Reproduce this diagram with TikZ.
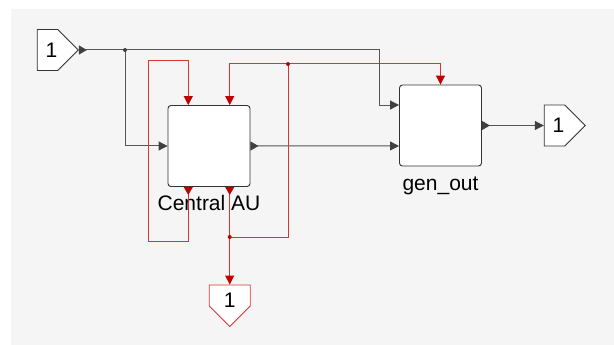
\documentclass[tikz,border=0pt]{standalone}
\usepackage{fontspec}
\setmainfont{Liberation Sans}
\usetikzlibrary{arrows.meta,positioning,calc,shapes.symbols}

\definecolor{canvas}{HTML}{F5F5F5}
\definecolor{wiregray}{HTML}{555555}
\definecolor{tipgray}{HTML}{404040}
\definecolor{sigred}{HTML}{D03838}
\definecolor{tipred}{HTML}{C00000}

\begin{document}
\begin{tikzpicture}[x=1pt, y=-1pt,
  block/.style={draw=black!80, fill=white, rounded corners=3pt, line width=0.9pt,
    minimum width=82pt, minimum height=81pt, inner sep=0pt},
  port/.style={shape=signal, draw=black!80, fill=white, line width=0.9pt,
    minimum width=41pt, minimum height=41pt, inner sep=0pt},
  portnum/.style={label={[font=\fontsize{21}{23}\selectfont, inner sep=0pt, #1]center:1}},
  lbl/.style={font=\fontsize{21}{23}\selectfont, inner sep=0pt, anchor=base},
  wire/.style={draw=wiregray, line width=1pt},
  redwire/.style={draw=sigred, line width=1pt},
  into/.style={-{Triangle[length=9pt,width=9pt,color=tipgray]}},
  outinto/.style={{Triangle[reversed,length=8pt,width=9pt,color=tipgray]}-{Triangle[length=9pt,width=9pt,color=tipgray]}},
  redinto/.style={-{Triangle[length=9pt,width=9pt,color=tipred]}},
  redoutinto/.style={{Triangle[reversed,length=8pt,width=9pt,color=tipred]}-{Triangle[length=9pt,width=9pt,color=tipred]}},
  dot/.style={circle, fill=#1, inner sep=0pt, minimum size=4pt}
]
  % canvas
  \fill[white] (0,0) rectangle (614,345);
  \fill[canvas] (11,9) rectangle (614,345);
  \useasboundingbox (0,0) rectangle (614,345);

  % blocks
  \node[block] (cau) at (209,146) {};
  \node[block] (genout) at (440.5,125.5) {};
  \node[lbl] (caulbl) at ([yshift=-24pt]cau.south) {Central AU};
  \node[lbl] (genlbl) at ([yshift=-24.5pt]genout.south) {gen\_out};

  % ports on the blocks
  \coordinate (cau-t1) at ($(cau.north west)!0.25!(cau.north east)$);
  \coordinate (cau-t2) at ($(cau.north west)!0.75!(cau.north east)$);
  \coordinate (cau-b1) at ($(cau.south west)!0.25!(cau.south east)$);
  \coordinate (cau-b2) at ($(cau.south west)!0.75!(cau.south east)$);
  \coordinate (gen-in1) at ($(genout.north west)!0.25!(genout.south west)$);
  \coordinate (gen-in2) at ($(genout.north west)!0.75!(genout.south west)$);

  % inport / outports
  \node[port, signal to=east, portnum={xshift=4pt}] (in1) at (47.5,50) {};
  \node[port, signal to=east, portnum={xshift=4pt}] (out1) at (554.5,125.5) {};
  \node[port, signal to=south, minimum height=21pt, draw=sigred,
    portnum={yshift=-5pt}] (rout1) at (cau-b2 |- 0,295.5) {};

  % junctions
  \coordinate (j1) at (125,50);
  \coordinate (j2) at (cau-b2 |- 0,237);
  \coordinate (j3) at (288,64);
  \coordinate (loopbl) at (148,241);
  \coordinate (looptl) at (148,61);

  % gray signals
  \draw[wire, outinto] (in1.east) -| ([xshift=-20pt]gen-in1) -- (gen-in1);
  \draw[wire, into] (j1) |- (cau.west);
  \draw[wire, outinto] (cau.east) -- (gen-in2);
  \draw[wire, outinto] (genout.east) -- (out1.west);
  \node[dot=tipgray] at (j1) {};

  % red signals
  \draw[redwire, redoutinto] (cau-b1) |- (loopbl) -- (looptl) -| (cau-t1);
  \draw[redwire, redoutinto] (cau-b2) -- (rout1.north);
  \draw[redwire] (j2) -| (j3);
  \draw[redwire, redinto] (j3) -| (cau-t2);
  \draw[redwire, redinto] (j3) -| (genout.north);
  \node[dot=tipred] at (j2) {};
  \node[dot=tipred] at (j3) {};
\end{tikzpicture}
\end{document}
